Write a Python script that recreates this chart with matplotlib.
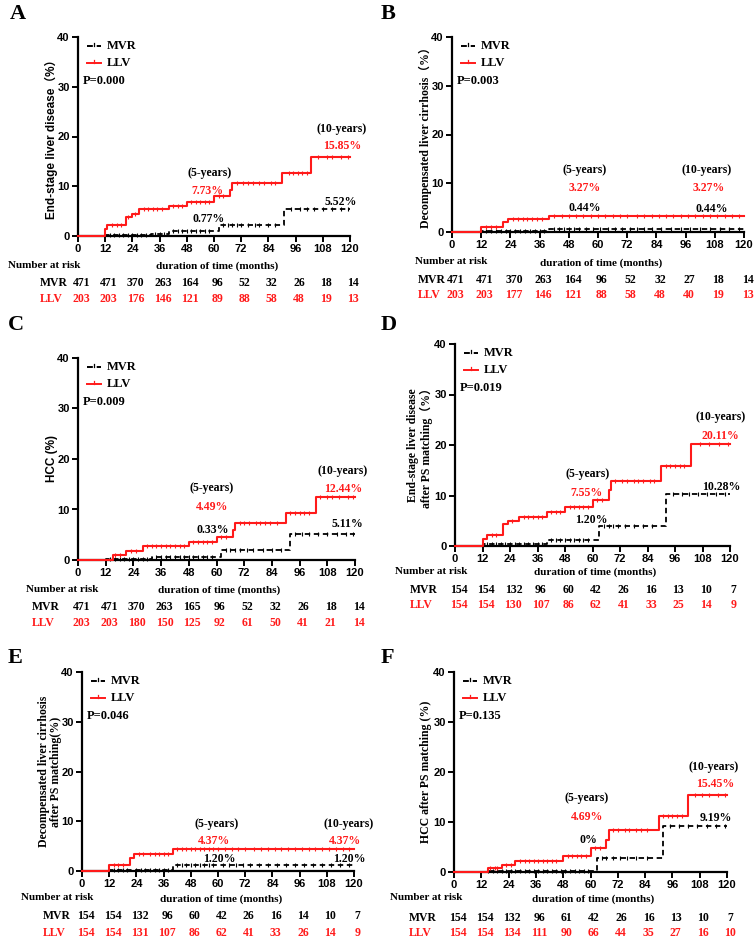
import numpy as np
import matplotlib
matplotlib.use("Agg")
import matplotlib.pyplot as plt
from matplotlib.transforms import blended_transform_factory

plt.rcParams['font.family'] = ['Liberation Serif', 'Noto Sans CJK SC']
plt.rcParams['font.weight'] = 'bold'

W, H = 755, 940
RED = '#ff1a1a'
months = [0, 12, 24, 36, 48, 60, 72, 84, 96, 108, 120]

# ---- panel A ----
a_llv_t = [0, 12, 13, 21, 24, 27, 40, 48, 60, 67, 68, 90, 103, 120]
a_llv_y = [0, 1.4, 2.2, 3.8, 4.5, 5.5, 6.1, 6.9, 8.0, 9.2, 10.6, 12.7, 15.85, 15.85]
a_mvr_t = [0, 12, 32, 40, 62, 91, 120]
a_mvr_y = [0, 0.3, 0.5, 1.0, 2.3, 5.52, 5.52]
a_llv_c = [15, 17, 19, 22, 25, 29, 31, 33, 35, 37, 42, 44, 46, 50, 52, 54, 56, 58,
           62, 64, 70, 73, 75, 77, 80, 82, 85, 87, 93, 95, 97, 99, 101, 106, 110, 112, 116, 119]
a_mvr_c = [14, 16, 18, 20, 22, 24, 26, 28, 30, 34, 36, 38, 42, 44, 46, 48, 50, 52, 54, 56,
           58, 64, 66, 68, 70, 72, 75, 78, 80, 84, 87, 94, 98, 101, 104, 108, 112, 116, 119]
a_mvr_n = [471, 471, 370, 263, 164, 96, 52, 32, 26, 18, 14]
a_llv_n = [203, 203, 176, 146, 121, 89, 88, 58, 48, 19, 13]

# ---- panel B ----
b_llv_t = [0, 12, 21, 23, 40, 120]
b_llv_y = [0, 1.0, 2.0, 2.7, 3.27, 3.27]
b_mvr_t = [0, 12, 40, 120]
b_mvr_y = [0, 0.2, 0.6, 0.6]
b_llv_c = [14, 16, 18, 25, 27, 29, 31, 33, 35, 37, 42, 45, 48, 51, 54, 57, 60, 63, 66, 69,
           72, 76, 79, 82, 85, 88, 91, 94, 97, 100, 103, 106, 109, 112, 115, 118]
b_mvr_c = [14, 16, 18, 20, 22, 24, 26, 28, 30, 32, 34, 36, 38, 42, 44, 46, 48, 50, 52, 55,
           58, 61, 64, 67, 70, 73, 76, 79, 82, 86, 90, 94, 98, 102, 106, 110, 114, 118]
b_mvr_n = [471, 471, 370, 263, 164, 96, 52, 32, 27, 18, 14]
b_llv_n = [203, 203, 177, 146, 121, 88, 58, 48, 40, 19, 13]

# ---- panel C ----
c_llv_t = [0, 15, 21, 28, 48, 60, 67, 68, 90, 103, 120]
c_llv_y = [0, 1.0, 1.7, 2.8, 3.6, 4.6, 5.9, 7.3, 9.4, 12.44, 12.44]
c_mvr_t = [0, 12, 32, 62, 92, 120]
c_mvr_y = [0, 0.2, 0.5, 1.9, 5.11, 5.11]
c_llv_c = [16, 18, 23, 25, 30, 32, 34, 36, 38, 40, 42, 44, 46, 50, 52, 54, 56, 58, 62, 64,
           70, 72, 74, 77, 79, 81, 83, 86, 92, 94, 96, 98, 100, 105, 108, 110, 113, 117, 119]
c_mvr_c = [14, 16, 18, 20, 22, 24, 26, 28, 30, 34, 36, 38, 40, 42, 44, 46, 48, 50, 52, 54,
           56, 58, 64, 66, 68, 70, 73, 76, 80, 84, 88, 94, 97, 100, 104, 108, 112, 116, 119]
c_mvr_n = [471, 471, 370, 263, 165, 96, 52, 32, 26, 18, 14]
c_llv_n = [203, 203, 180, 150, 125, 92, 61, 50, 41, 21, 14]

# ---- panel D ----
d_llv_t = [0, 12, 14, 21, 23, 28, 40, 48, 60, 67, 68, 90, 103, 120]
d_llv_y = [0, 1.3, 2.1, 4.3, 5.0, 5.7, 6.7, 7.7, 9.1, 11.0, 12.9, 15.8, 20.11, 20.11]
d_mvr_t = [0, 12, 40, 63, 92, 120]
d_mvr_y = [0, 0.3, 1.2, 4.0, 10.28, 10.28]
d_llv_c = [16, 18, 25, 30, 32, 34, 36, 38, 42, 44, 46, 50, 52, 54, 56, 58, 62, 64, 70,
           73, 75, 78, 80, 82, 85, 87, 92, 94, 96, 98, 100, 107, 111, 115, 119]
d_mvr_c = [14, 16, 18, 20, 22, 24, 26, 28, 30, 32, 34, 36, 38, 42, 44, 46, 48, 50, 52, 54,
           56, 58, 65, 67, 69, 71, 74, 78, 82, 86, 95, 99, 102, 106, 110, 114, 118]
d_mvr_n = [154, 154, 132, 96, 60, 42, 26, 16, 13, 10, 7]
d_llv_n = [154, 154, 130, 107, 86, 62, 41, 33, 25, 14, 9]

# ---- panel E ----
e_llv_t = [0, 12, 21, 23, 40, 120]
e_llv_y = [0, 1.3, 2.7, 3.5, 4.37, 4.37]
e_mvr_t = [0, 12, 40, 120]
e_mvr_y = [0, 0.3, 1.2, 1.2]
e_llv_c = [14, 16, 18, 25, 27, 30, 32, 34, 36, 38, 42, 44, 46, 48, 50, 52, 54, 56, 58, 60,
           63, 66, 69, 72, 76, 79, 82, 85, 88, 91, 94, 97, 100, 103, 106, 109, 112, 115, 118]
e_mvr_c = [14, 16, 18, 20, 24, 26, 28, 30, 32, 34, 36, 38, 42, 44, 46, 48, 50, 52, 54, 56,
           58, 62, 65, 68, 71, 74, 78, 82, 86, 90, 94, 98, 102, 106, 110, 114, 118]
e_mvr_n = [154, 154, 132, 96, 60, 42, 26, 16, 14, 10, 7]
e_llv_n = [154, 154, 131, 107, 86, 62, 41, 33, 26, 14, 9]

# ---- panel F ----
f_llv_t = [0, 15, 21, 27, 48, 60, 67, 68, 90, 103, 120]
f_llv_y = [0, 0.8, 1.4, 2.3, 3.3, 4.8, 6.5, 8.5, 11.3, 15.45, 15.45]
f_mvr_t = [0, 14, 63, 92, 120]
f_mvr_y = [0, 0.2, 2.8, 9.19, 9.19]
f_llv_c = [16, 18, 19, 23, 25, 29, 31, 33, 35, 37, 39, 41, 43, 45, 50, 52, 54, 56, 58, 62,
           64, 70, 72, 75, 77, 80, 82, 85, 92, 94, 96, 98, 100, 106, 109, 112, 116, 119]
f_mvr_c = [15, 17, 19, 21, 23, 25, 27, 29, 31, 33, 35, 37, 39, 41, 43, 45, 47, 49, 51, 53,
           55, 57, 59, 65, 67, 70, 73, 76, 80, 85, 95, 99, 103, 107, 111, 115, 119]
f_mvr_n = [154, 154, 132, 96, 61, 42, 26, 16, 13, 10, 7]
f_llv_n = [154, 154, 134, 111, 90, 66, 44, 35, 27, 16, 10]

p_values = ['P=0.000', 'P=0.003', 'P=0.009', 'P=0.019', 'P=0.046', 'P=0.135']

panels = [
    dict(letter='A', box=(78, 37, 350, 236), lpos=(10, 14),
         ylab='End-stage liver disease（%）', ylab_x=51, ysans=True,
         llv=(a_llv_t, a_llv_y, a_llv_c), mvr=(a_mvr_t, a_mvr_y, a_mvr_c),
         n=(a_mvr_n, a_llv_n), nr_x=8, row_lab_x=40, off=(29, 47, 63),
         ann=[(58, 12.7, '(5-years)', 'k'), (57, 9.0, '7.73%', RED), (57.5, 3.4, '0.77%', 'k'),
              (116.5, 21.5, '(10-years)', 'k'), (116.5, 18.1, '15.85%', RED), (116, 6.9, '5.52%', 'k')]),
    dict(letter='B', box=(452, 37, 744, 232), lpos=(381, 14),
         ylab='Decompensated liver cirrhosis（%）', ylab_x=425, ysans=False,
         llv=(b_llv_t, b_llv_y, b_llv_c), mvr=(b_mvr_t, b_mvr_y, b_mvr_c),
         n=(b_mvr_n, b_llv_n), nr_x=415, row_lab_x=418, off=(30, 48, 63),
         ann=[(54.7, 12.7, '(5-years)', 'k'), (54.7, 9.0, '3.27%', RED), (54.7, 4.9, '0.44%', 'k'),
              (104.5, 12.7, '(10-years)', 'k'), (105.3, 9.0, '3.27%', RED), (106.6, 4.7, '0.44%', 'k')]),
    dict(letter='C', box=(78, 358, 355, 560), lpos=(8, 325),
         ylab='HCC (%)', ylab_x=52, ysans=True,
         llv=(c_llv_t, c_llv_y, c_llv_c), mvr=(c_mvr_t, c_mvr_y, c_mvr_c),
         n=(c_mvr_n, c_llv_n), nr_x=26, row_lab_x=32, off=(29, 47, 63),
         ann=[(58, 14.3, '(5-years)', 'k'), (58, 10.5, '4.49%', RED), (58.4, 5.9, '0.33%', 'k'),
              (114.7, 17.6, '(10-years)', 'k'), (114.7, 14.1, '12.44%', RED), (116.5, 7.1, '5.11%', 'k')]),
    dict(letter='D', box=(455, 344, 730, 546), lpos=(381, 325),
         ylab='End-stage liver disease\nafter PS matching（%）', ylab_x=420, ysans=False,
         llv=(d_llv_t, d_llv_y, d_llv_c), mvr=(d_mvr_t, d_mvr_y, d_mvr_c),
         n=(d_mvr_n, d_llv_n), nr_x=395, row_lab_x=410, off=(25, 44, 59),
         ann=[(58, 14.3, '(5-years)', 'k'), (57.2, 10.5, '7.55%', RED), (59.4, 5.1, '1.20%', 'k'),
              (116, 25.5, '(10-years)', 'k'), (115.7, 21.8, '20.11%', RED), (116, 11.7, '10.28%', 'k')]),
    dict(letter='E', box=(82, 672, 354, 871), lpos=(8, 658),
         ylab='Decompensated liver cirrhosis\nafter PS matching(%)', ylab_x=50, ysans=False,
         llv=(e_llv_t, e_llv_y, e_llv_c), mvr=(e_mvr_t, e_mvr_y, e_mvr_c),
         n=(e_mvr_n, e_llv_n), nr_x=21, row_lab_x=43, off=(27, 45, 62),
         ann=[(59.5, 9.4, '(5-years)', 'k'), (58.1, 6.0, '4.37%', RED), (60.8, 2.4, '1.20%', 'k'),
              (117.6, 9.4, '(10-years)', 'k'), (115.9, 6.0, '4.37%', RED), (118, 2.4, '1.20%', 'k')]),
    dict(letter='F', box=(454, 672, 727, 872), lpos=(381, 658),
         ylab='HCC after PS matching (%)', ylab_x=426, ysans=False,
         llv=(f_llv_t, f_llv_y, f_llv_c), mvr=(f_mvr_t, f_mvr_y, f_mvr_c),
         n=(f_mvr_n, f_llv_n), nr_x=390, row_lab_x=409, off=(26, 46, 61),
         ann=[(58.5, 14.8, '(5-years)', 'k'), (58.5, 11.0, '4.69%', RED), (59.3, 6.4, '0%', 'k'),
              (114.3, 21.0, '(10-years)', 'k'), (114.7, 17.6, '15.45%', RED), (115.2, 10.8, '9.19%', 'k')]),
]


def fx(x):
    return x / W


def fy(y):
    return 1 - y / H


def step_at(t, y, c):
    idx = np.searchsorted(t, c, side='right') - 1
    return np.asarray(y)[idx]


fig = plt.figure(figsize=(W / 100, H / 100), dpi=100)

for k, p in enumerate(panels):
    l, t, r, b = p['box']
    ax = fig.add_axes([fx(l), fy(b), fx(r - l), (b - t) / H])

    mt, my, mc = p['mvr']
    lt, ly, lc = p['llv']
    ax.step(mt, my, where='post', color='black', lw=1.3, ls=(0, (3, 2)), clip_on=False, zorder=3)
    ax.plot(mc, step_at(mt, my, mc), ls='none', marker='|', ms=3.5, mew=0.8, color='black', clip_on=False, zorder=3)
    ax.step(lt, ly, where='post', color=RED, lw=1.5, clip_on=False, zorder=4)
    ax.plot(lc, step_at(lt, ly, lc), ls='none', marker='|', ms=3.5, mew=0.8, color=RED, clip_on=False, zorder=4)

    ax.set_xlim(0, 120)
    ax.set_ylim(0, 40)
    ax.set_xticks(months)
    ax.set_yticks([0, 10, 20, 30, 40])
    for s in ['top', 'right']:
        ax.spines[s].set_visible(False)
    for s in ['left', 'bottom']:
        ax.spines[s].set_linewidth(1.6)
    ax.tick_params(width=1.4, length=4, labelsize=8, pad=2)
    for lab in ax.get_xticklabels() + ax.get_yticklabels():
        lab.set_family('Liberation Sans')
        lab.set_fontweight('bold')

    # legend and p value
    for j, (name, col, ls) in enumerate([('MVR', 'black', (0, (3, 2))), ('LLV', RED, '-')]):
        yy = fy(t + 9 + 17 * j)
        fig.add_artist(plt.Line2D([fx(l + 9), fx(l + 23)], [yy, yy], color=col, lw=1.4, ls=ls))
        fig.add_artist(plt.Line2D([fx(l + 16), fx(l + 16)], [yy, yy + 3 / H], color=col, lw=0.9))
        fig.text(fx(l + 29), yy, name, fontsize=9, va='center', ha='left', color='black')
    fig.text(fx(l + 5), fy(t + 44), p_values[k], fontsize=9, va='center', ha='left')

    # annotations
    for x, y, s, col in p['ann']:
        ax.text(x, y, s, fontsize=8.5, ha='center', va='center', color=col, clip_on=False)

    # y label
    fam = ['Liberation Sans', 'Noto Sans CJK SC'] if p['ysans'] else ['Liberation Serif', 'Noto Sans CJK SC']
    fig.text(fx(p['ylab_x']), fy((t + b) / 2), p['ylab'], rotation=90, ha='center', va='center',
             fontsize=8.5, family=fam, linespacing=1.1)

    # panel letter
    fig.text(fx(p['lpos'][0]), fy(p['lpos'][1]), p['letter'], fontsize=16, ha='left', va='center')

    # risk table
    o1, o2, o3 = p['off']
    fig.text(fx(p['nr_x']), fy(b + o1), 'Number at risk', fontsize=8, ha='left', va='center')
    fig.text(fx((l + r) / 2 + 3), fy(b + o1 + 1), 'duration of time (months)', fontsize=8,
             ha='center', va='center')
    tr = blended_transform_factory(ax.transData, fig.transFigure)
    mvr_n, llv_n = p['n']
    fig.text(fx(p['row_lab_x']), fy(b + o2), 'MVR', fontsize=8.5, ha='left', va='center')
    fig.text(fx(p['row_lab_x']), fy(b + o3), 'LLV', fontsize=8.5, ha='left', va='center', color=RED)
    for m, n1, n2 in zip(months, mvr_n, llv_n):
        ax.text(m + 1.5, fy(b + o2), str(n1), transform=tr, fontsize=8.5, ha='center', va='center')
        ax.text(m + 1.5, fy(b + o3), str(n2), transform=tr, fontsize=8.5, ha='center', va='center', color=RED)

fig.savefig('out.png', dpi=100)
